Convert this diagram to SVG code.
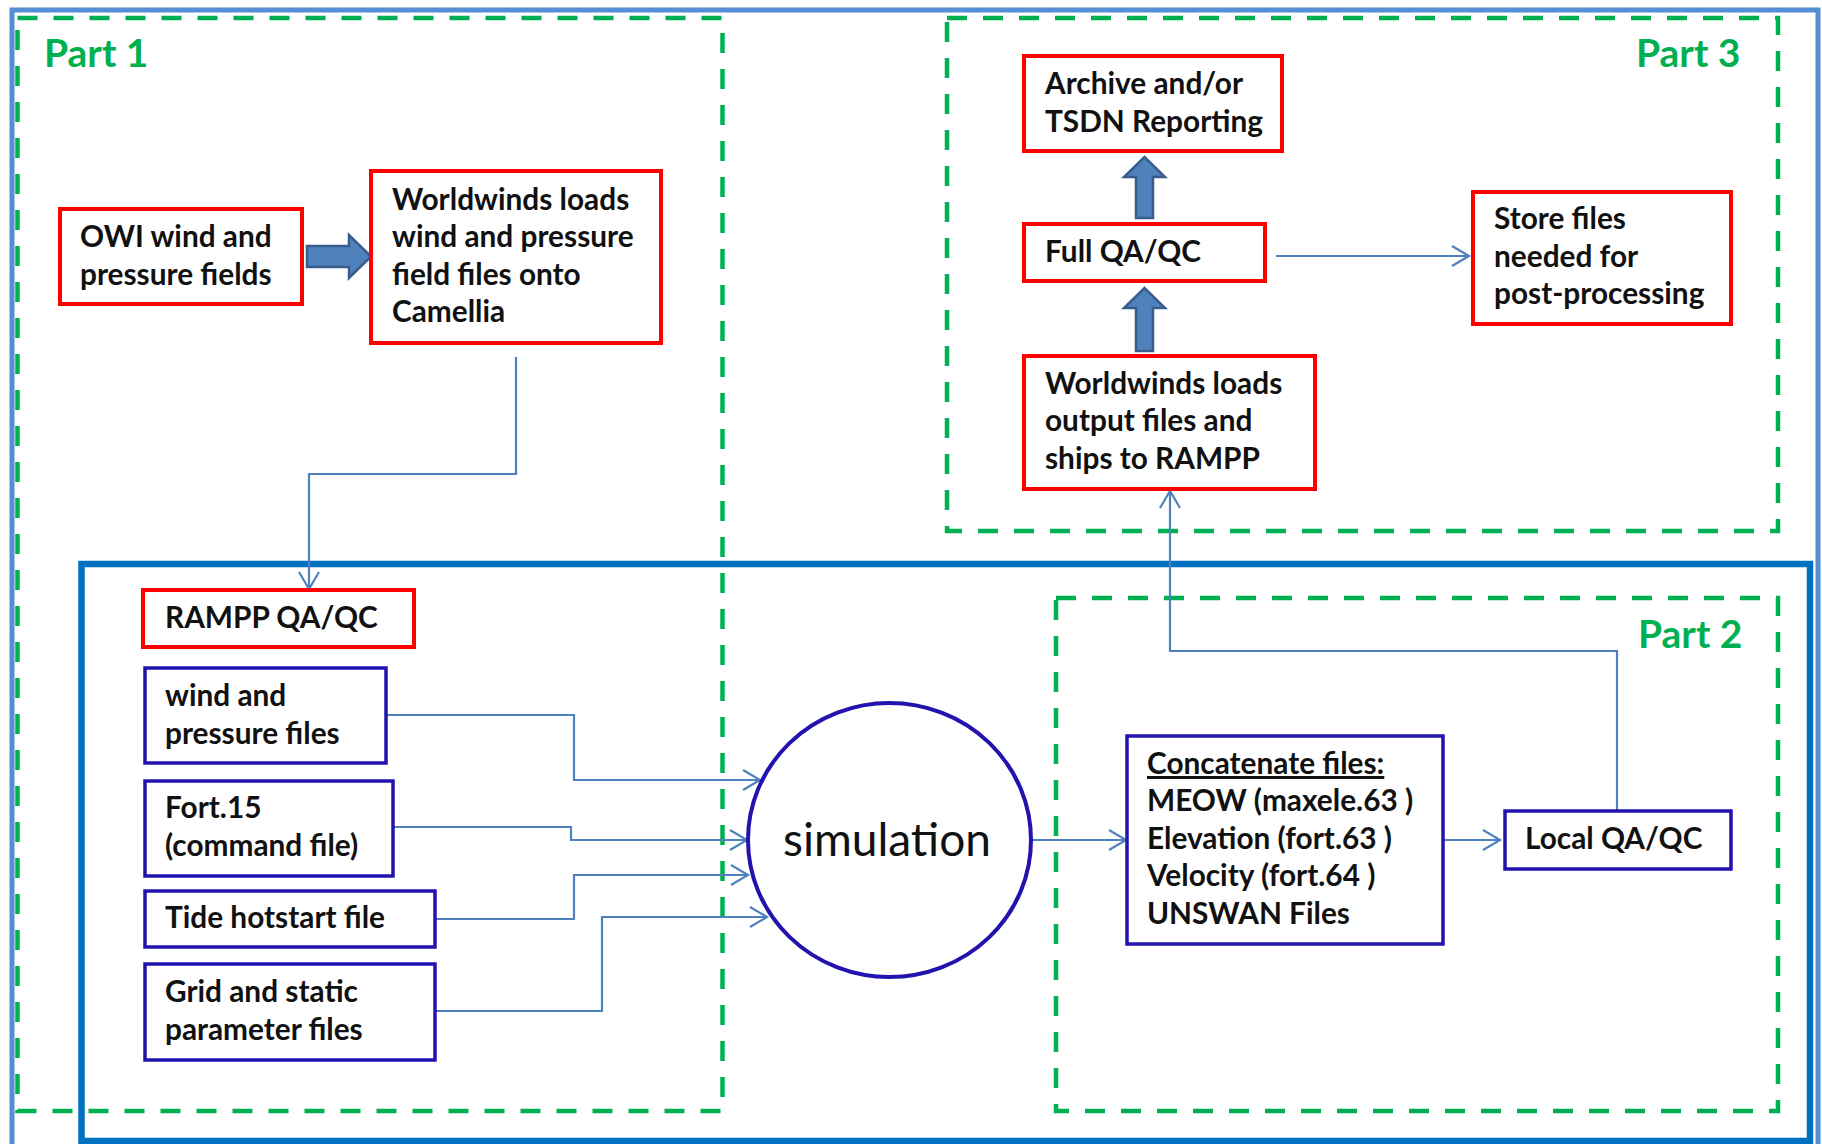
<svg xmlns="http://www.w3.org/2000/svg" width="1822" height="1144" viewBox="0 0 1822 1144">
<defs>
<style>
.frame-outer{fill:none;stroke:#558ED5;stroke-width:5}
.frame-inner{fill:none;stroke:#0070C0;stroke-width:6.5}
.part{fill:none;stroke:#00B050;stroke-width:4.5;stroke-dasharray:20 16}
.plabel{font-family:Lato,"Liberation Sans",sans-serif;font-weight:bold;font-size:39px;fill:#00B050}
.red{fill:#fff;stroke:#FF0000;stroke-width:4}
.blue{fill:#fff;stroke:#2212AE;stroke-width:3.5}
.t{font-family:Lato,"Liberation Sans",sans-serif;font-weight:bold;font-size:29.8px;fill:#111}
.sim{font-family:Lato,"Liberation Sans",sans-serif;font-size:46px;fill:#111}
.conn{fill:none;stroke:#4F81BD;stroke-width:2.2}
.block{fill:#4F81BD;stroke:#385D8A;stroke-width:2.5}
</style>
<marker id="ah" markerUnits="userSpaceOnUse" markerWidth="24" markerHeight="24" viewBox="-20 -12 24 24" refX="0" refY="0" orient="auto">
<path d="M-17,-10 L0,0 L-17,10" fill="none" stroke="#4F81BD" stroke-width="2.2"/>
</marker>
</defs>
<rect width="1822" height="1144" fill="#fff"/>
<g id="frames">
<rect class="frame-outer" x="12" y="10" width="1806" height="1140"/>
<rect class="part" x="17.5" y="18" width="705" height="1093"/>
<rect class="part" x="947" y="18" width="831" height="513"/>
<rect class="part" x="1056" y="598" width="722" height="513"/>
<rect class="frame-inner" x="81.5" y="564" width="1728.5" height="577"/>
<text class="plabel" x="44" y="67">Part 1</text>
<text class="plabel" x="1636" y="67">Part 3</text>
<text class="plabel" x="1638" y="648">Part 2</text>
</g>
<g id="connectors">
<path class="conn" d="M516,357 V474 H309 V589" marker-end="url(#ah)"/>
<path class="conn" d="M386,715 H574 V780 H760" marker-end="url(#ah)"/>
<path class="conn" d="M393,827 H571 V840 H747" marker-end="url(#ah)"/>
<path class="conn" d="M435,919 H574 V875 H748" marker-end="url(#ah)"/>
<path class="conn" d="M435,1011 H602 V917 H767" marker-end="url(#ah)"/>
<path class="conn" d="M1031,840 H1126" marker-end="url(#ah)"/>
<path class="conn" d="M1443,840 H1500" marker-end="url(#ah)"/>
<path class="conn" d="M1617,811 V651 H1170 V491" marker-end="url(#ah)"/>
<path class="conn" d="M1276,256 H1469" marker-end="url(#ah)"/>
<path class="block" d="M307,246 H349 V235 L371,256.5 L349,278 V267 H307 Z"/>
<path class="block" d="M1136,218 V177 H1124 L1144.5,157 L1165,177 H1153 V218 Z"/>
<path class="block" d="M1136,351 V308 H1124 L1144.5,288 L1165,308 H1153 V351 Z"/>
</g>
<g id="owi">
<rect class="red" x="60" y="209" width="242" height="95"/>
<text class="t" x="80" y="247">OWI wind and</text>
<text class="t" x="80" y="285">pressure fields</text>
</g>
<g id="ww-load">
<rect class="red" x="371" y="171" width="290" height="172"/>
<text class="t" x="392" y="210">Worldwinds loads</text>
<text class="t" x="392" y="247">wind and pressure</text>
<text class="t" x="392" y="285">field files onto</text>
<text class="t" x="392" y="322">Camellia</text>
</g>
<g id="rampp">
<rect class="red" x="143" y="590" width="271" height="57"/>
<text class="t" x="165" y="628">RAMPP QA/QC</text>
</g>
<g id="archive">
<rect class="red" x="1024" y="56" width="258" height="95"/>
<text class="t" x="1045" y="94">Archive and/or</text>
<text class="t" x="1045" y="132">TSDN Reporting</text>
</g>
<g id="fullqa">
<rect class="red" x="1024" y="224" width="241" height="57"/>
<text class="t" x="1045" y="262">Full QA/QC</text>
</g>
<g id="ww-output">
<rect class="red" x="1024" y="356" width="291" height="133"/>
<text class="t" x="1045" y="394">Worldwinds loads</text>
<text class="t" x="1045" y="431">output files and</text>
<text class="t" x="1045" y="469">ships to RAMPP</text>
</g>
<g id="store">
<rect class="red" x="1473" y="192" width="258" height="132"/>
<text class="t" x="1494" y="229">Store files</text>
<text class="t" x="1494" y="267">needed for</text>
<text class="t" x="1494" y="304">post-processing</text>
</g>
<g id="windfiles">
<rect class="blue" x="145" y="668" width="241" height="95"/>
<text class="t" x="165" y="706">wind and</text>
<text class="t" x="165" y="744">pressure files</text>
</g>
<g id="fort15">
<rect class="blue" x="145" y="781" width="248" height="95"/>
<text class="t" x="165" y="818">Fort.15</text>
<text class="t" x="165" y="856">(command file)</text>
</g>
<g id="tide">
<rect class="blue" x="145" y="891" width="290" height="56"/>
<text class="t" x="165" y="928">Tide hotstart file</text>
</g>
<g id="grid">
<rect class="blue" x="145" y="964" width="290" height="96"/>
<text class="t" x="165" y="1002">Grid and static</text>
<text class="t" x="165" y="1040">parameter files</text>
</g>
<g id="simulation">
<ellipse cx="889.5" cy="840" rx="141.5" ry="137" fill="#fff" stroke="#2212AE" stroke-width="4"/>
<text class="sim" x="887" y="856" text-anchor="middle">simulation</text>
</g>
<g id="concat">
<rect class="blue" x="1127" y="736" width="316" height="208"/>
<text class="t" x="1147" y="774" text-decoration="underline">Concatenate files:</text>
<text class="t" x="1147" y="811">MEOW (maxele.63 )</text>
<text class="t" x="1147" y="849">Elevation (fort.63 )</text>
<text class="t" x="1147" y="886">Velocity (fort.64 )</text>
<text class="t" x="1147" y="924">UNSWAN Files</text>
</g>
<g id="localqa">
<rect class="blue" x="1505" y="811" width="226" height="58"/>
<text class="t" x="1525" y="849">Local QA/QC</text>
</g>
</svg>
